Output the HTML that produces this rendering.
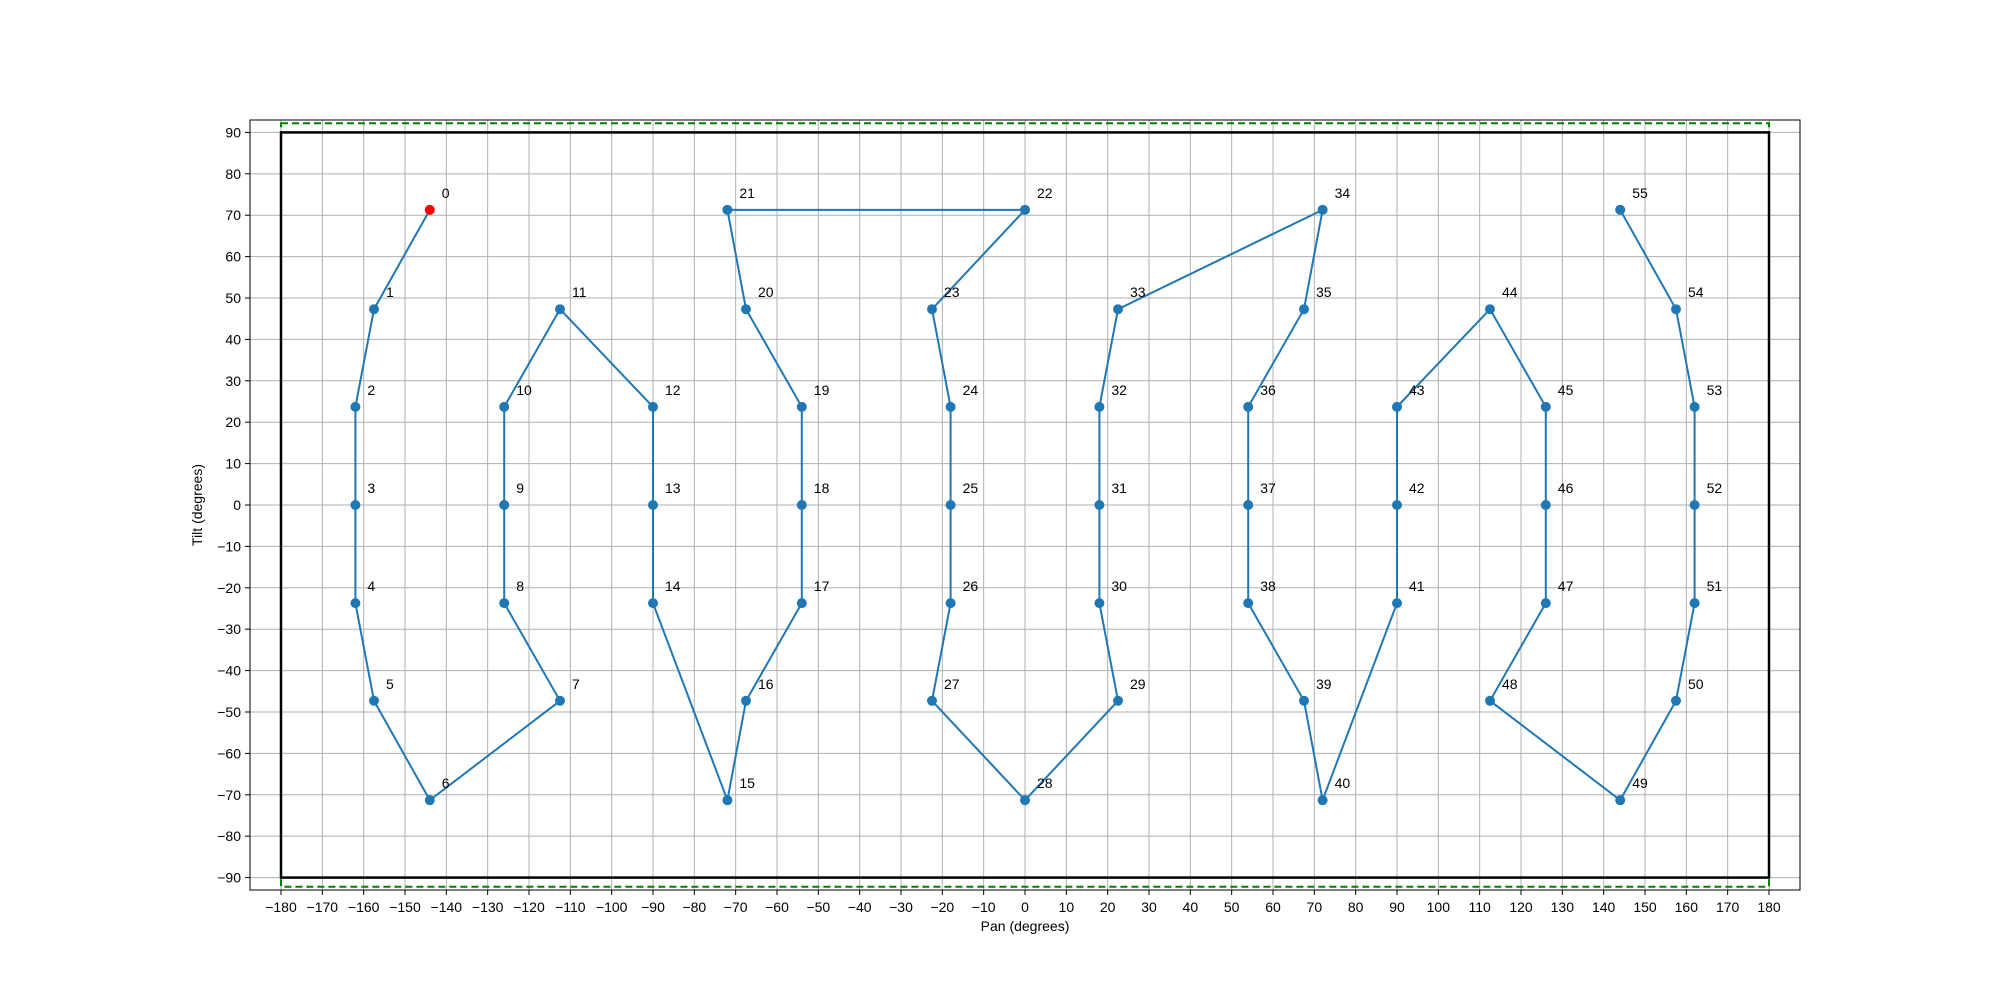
<!DOCTYPE html>
<html><head><meta charset="utf-8"><style>body{margin:0;background:#fff}svg{display:block;font-family:"Liberation Sans","DejaVu Sans",sans-serif}</style></head>
<body>
<svg id="c" width="2000" height="1000" xmlns="http://www.w3.org/2000/svg"></svg>
<script>
const pans=[-144,-157.5,-162,-162,-162,-157.5,-144,-112.5,-126,-126,-126,-112.5,-90,-90,-90,-72,-67.5,-54,-54,-54,-67.5,-72,0,-22.5,-18,-18,-18,-22.5,0,22.5,18,18,18,22.5,72,67.5,54,54,54,67.5,72,90,90,90,112.5,126,126,126,112.5,144,157.5,162,162,162,157.5,144];
const tilts=[71.3,47.3,23.7,0,-23.7,-47.3,-71.3,-47.3,-23.7,0,23.7,47.3,23.7,0,-23.7,-71.3,-47.3,-23.7,0,23.7,47.3,71.3,71.3,47.3,23.7,0,-23.7,-47.3,-71.3,-47.3,-23.7,0,23.7,47.3,71.3,47.3,23.7,0,-23.7,-47.3,-71.3,-23.7,0,23.7,47.3,23.7,0,-23.7,-47.3,-71.3,-47.3,-23.7,0,23.7,47.3,71.3];
const xTicks=[];for(let v=-180;v<=180;v+=10)xTicks.push(v);
const yTicks=[];for(let v=-90;v<=90;v+=10)yTicks.push(v);
const L=250,R=1800,T=120,B=890,X0=-187.5,X1=187.5,Y0=-93,Y1=93;
const sx=v=>L+(v-X0)/(X1-X0)*(R-L), sy=v=>B-(v-Y0)/(Y1-Y0)*(B-T);
const svg=document.getElementById('c'),NS='http://www.w3.org/2000/svg';
function mk(t,a,p){const e=document.createElementNS(NS,t);for(const k in a)e.setAttribute(k,a[k]);(p||svg).appendChild(e);return e;}
const fmt=v=>v<0?'\u2212'+(-v):''+v;
xTicks.forEach(v=>{const x=sx(v);
const g=mk('line',{x1:x,x2:x,y1:T,y2:B,stroke:'#b0b0b0','stroke-width':1});


mk('line',{x1:x,x2:x,y1:B,y2:B+5,stroke:'#000'});
const t=mk('text',{x:x,y:B+22,'text-anchor':'middle','font-size':14});t.textContent=fmt(v);

});
yTicks.forEach(v=>{const y=sy(v);
const g=mk('line',{x1:L,x2:R,y1:y,y2:y,stroke:'#b0b0b0','stroke-width':1});


mk('line',{x1:L-5,x2:L,y1:y,y2:y,stroke:'#000'});
const t=mk('text',{x:L-9,y:y+5,'text-anchor':'end','font-size':14});t.textContent=fmt(v);

});
const g1=mk('rect',{x:sx(-180),y:sy(92.2),width:sx(180)-sx(-180),height:sy(-92.2)-sy(92.2),fill:'none',stroke:'green','stroke-width':2,'stroke-dasharray':'7,4'});


const b1=mk('rect',{x:sx(-180),y:sy(90),width:sx(180)-sx(-180),height:sy(-90)-sy(90),fill:'none',stroke:'#000','stroke-width':2.5});


const pl=mk('polyline',{points:pans.map((p,i)=>sx(p)+','+sy(tilts[i])).join(' '),fill:'none',stroke:'#1f77b4','stroke-width':2});


pans.forEach((p,i)=>{const c=mk('circle',{cx:sx(p),cy:sy(tilts[i]),r:5,fill:i==0?'#ff0000':'#1f77b4'});


const t=mk('text',{x:sx(p)+12,y:sy(tilts[i])-12,'font-size':14});t.textContent=i;

});
const fr=mk('rect',{x:L,y:T,width:R-L,height:B-T,fill:'none',stroke:'#000','stroke-width':1});


const xl=mk('text',{x:(L+R)/2,y:931,'text-anchor':'middle','font-size':14});xl.textContent='Pan (degrees)';


const yl=mk('text',{x:0,y:0,'text-anchor':'middle','font-size':14,transform:`translate(202,${(T+B)/2}) rotate(-90)`});yl.textContent='Tilt (degrees)';


</script>
</body></html>
